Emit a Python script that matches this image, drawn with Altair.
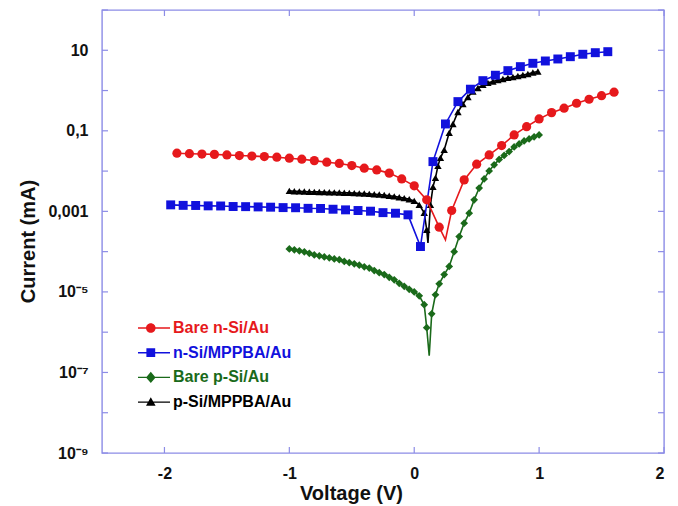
import math
import altair as alt
import pandas as pd

# ---------------- data ----------------
series_names = ["Bare n-Si/Au", "n-Si/MPPBA/Au", "Bare p-Si/Au", "p-Si/MPPBA/Au"]
series_colors = ["#e6191c", "#1111dd", "#1a6a1a", "#000000"]

# Bare n-Si/Au (red circles)
red_v = [-1.9, -1.8, -1.7, -1.6, -1.5, -1.4, -1.3, -1.2, -1.1, -1.0,
         -0.9, -0.8, -0.7, -0.6, -0.5, -0.4, -0.3, -0.2, -0.1, 0.0,
         0.1, 0.2, 0.3, 0.4, 0.5, 0.6, 0.7, 0.8, 0.9, 1.0,
         1.1, 1.2, 1.3, 1.4, 1.5, 1.6]
red_i = [2.78e-2, 2.70e-2, 2.65e-2, 2.60e-2, 2.52e-2, 2.43e-2, 2.36e-2, 2.29e-2, 2.21e-2, 2.09e-2,
         1.97e-2, 1.82e-2, 1.66e-2, 1.55e-2, 1.37e-2, 1.18e-2, 1.07e-2, 8.9e-3, 6.4e-3, 4.3e-3,
         1.93e-3, 4.05e-4, 1.05e-3, 6.05e-3, 1.48e-2, 2.52e-2, 4.3e-2, 7.9e-2, 0.127, 0.197,
         0.283, 0.364, 0.484, 0.608, 0.747, 0.908]
red_dip_v = [0.25]
red_dip_i = [1.96e-4]

# n-Si/MPPBA/Au (blue squares)
blue_v = [-1.95, -1.85, -1.75, -1.65, -1.55, -1.45, -1.35, -1.25, -1.15, -1.05,
          -0.95, -0.85, -0.75, -0.65, -0.55, -0.45, -0.35, -0.25, -0.15, -0.05,
          0.05, 0.15, 0.25, 0.35, 0.45, 0.55, 0.65, 0.75, 0.85, 0.95,
          1.05, 1.15, 1.25, 1.35, 1.45, 1.55]
blue_i = [1.45e-3, 1.41e-3, 1.40e-3, 1.37e-3, 1.36e-3, 1.32e-3, 1.31e-3, 1.29e-3, 1.27e-3, 1.24e-3,
          1.23e-3, 1.19e-3, 1.18e-3, 1.13e-3, 1.09e-3, 1.05e-3, 1.01e-3, 9.3e-4, 9.0e-4, 8.2e-4,
          1.34e-4, 1.72e-2, 0.148, 0.531, 1.08, 1.76, 2.4, 3.12, 3.92, 4.75,
          5.42, 6.08, 6.93, 7.96, 8.71, 9.23]
blue_dip_v = []
blue_dip_i = []

# Bare p-Si/Au (green diamonds)
green_v = [-1.00, -0.96, -0.92, -0.88, -0.84, -0.80, -0.76, -0.72, -0.68, -0.64,
           -0.60, -0.56, -0.52, -0.48, -0.44, -0.40, -0.36, -0.32, -0.28, -0.24,
           -0.20, -0.16, -0.12, -0.08, -0.04, 0.00, 0.04, 0.08, 0.10,
           0.14, 0.17, 0.20, 0.24, 0.28, 0.32, 0.36, 0.40, 0.44, 0.48,
           0.52, 0.56, 0.60, 0.64, 0.68, 0.72, 0.76, 0.80, 0.84, 0.88,
           0.92, 0.96, 1.00]
green_i = [1.17e-4, 1.11e-4, 1.05e-4, 9.9e-5, 9.1e-5, 8.3e-5, 7.9e-5, 7.4e-5, 7.0e-5, 6.6e-5,
           6.3e-5, 5.7e-5, 5.3e-5, 5.0e-5, 4.6e-5, 4.2e-5, 3.9e-5, 3.4e-5, 3.0e-5, 2.7e-5,
           2.3e-5, 2.0e-5, 1.63e-5, 1.38e-5, 1.16e-5, 1.0e-5, 8.0e-6, 4.8e-6, 1.29e-6,
           2.86e-6, 8.5e-6, 1.59e-5, 2.7e-5, 4.3e-5, 1.0e-4, 2.37e-4, 5.1e-4, 9.0e-4, 1.93e-3,
           3.8e-3, 6.4e-3, 1.01e-2, 1.43e-2, 1.95e-2, 2.45e-2, 3.05e-2, 3.98e-2, 4.73e-2, 5.6e-2,
           6.3e-2, 7.1e-2, 7.9e-2]
green_dip_v = [0.12]
green_dip_i = [2.6e-7]

# p-Si/MPPBA/Au (black triangles)
black_v = [-1.00, -0.96, -0.92, -0.88, -0.84, -0.80, -0.76, -0.72, -0.68, -0.64,
           -0.60, -0.56, -0.52, -0.48, -0.44, -0.40, -0.36, -0.32, -0.28, -0.24,
           -0.20, -0.16, -0.12, -0.08, -0.04, 0.00, 0.04, 0.08, 0.10,
           0.13, 0.15, 0.17, 0.19, 0.21, 0.24, 0.28, 0.31, 0.35, 0.39,
           0.43, 0.47, 0.51, 0.55, 0.59, 0.63, 0.67, 0.71, 0.75, 0.79,
           0.83, 0.87, 0.91, 0.95, 0.99]
black_i = [3.23e-3, 3.17e-3, 3.13e-3, 3.10e-3, 3.08e-3, 3.05e-3, 3.04e-3, 3.01e-3, 2.99e-3, 2.96e-3,
           2.94e-3, 2.91e-3, 2.88e-3, 2.84e-3, 2.80e-3, 2.77e-3, 2.72e-3, 2.67e-3, 2.61e-3, 2.54e-3,
           2.45e-3, 2.36e-3, 2.25e-3, 2.13e-3, 1.99e-3, 1.82e-3, 1.45e-3, 9.2e-4, 3.5e-4,
           1.45e-3, 4.05e-3, 6.8e-3, 1.35e-2, 2.13e-2, 3.36e-2, 8.9e-2, 0.148, 0.294, 0.465,
           0.693, 0.95, 1.16, 1.38, 1.55, 1.68, 1.83, 1.94, 2.06, 2.17,
           2.30, 2.44, 2.58, 2.81, 2.98]
black_dip_v = [0.11]
black_dip_i = [1.65e-4]

# axes
x_tick_values = [-2, -1, 0, 1, 2]
x_tick_labels = ["-2", "-1", "0", "1", "2"]
y_label_values = [10, 0.1, 0.001, 1e-5, 1e-7, 1e-9]
y_label_texts = ["10", "0,1", "0,001", "10\u207b\u2075", "10\u207b\u2077", "10\u207b\u2079"]
y_tick_values = [1e2, 1e1, 1e0, 1e-1, 1e-2, 1e-3, 1e-4, 1e-5, 1e-6, 1e-7, 1e-8, 1e-9]

# legend glyphs: a line segment with the series marker (custom symbol paths)
legend_paths = [
    "M-1,-0.09H3V0.09H-1Z M1.2,0A0.6,0.6 0 1,1 0,0A0.6,0.6 0 1,1 1.2,0Z",
    "M-1,-0.09H3V0.09H-1Z M0.05,-0.55H1.15V0.55H0.05Z",
    "M-1,-0.09H3V0.09H-1Z M0.6,-0.7L1.2,0L0.6,0.7L0,0Z",
    "M-1,-0.09H3V0.09H-1Z M0.6,-0.6L1.2,0.45L0,0.45Z",
]

# ---------------- chart ----------------
FONT = "Liberation Sans"
FRAME = "#8c8ce6"
W, H = 562, 443

xs = alt.Scale(domain=[-2.5, 2], nice=False, zero=False)
ys = alt.Scale(type="log", domain=[1e-9, 100], nice=False)

x_label_expr = " : ".join(
    f"datum.value == {v} ? '{t}'" for v, t in zip(x_tick_values, x_tick_labels)) + " : ''"
y_label_expr = " : ".join(
    f"round(log(datum.value)/LN10) == {round(math.log10(v))} ? '{t}'"
    for v, t in zip(y_label_values, y_label_texts)) + " : ''"

x_axis = alt.Axis(values=x_tick_values, labelExpr=x_label_expr, title="Voltage (V)",
                  grid=False, domain=False, ticks=False, labelPadding=12,
                  labelFont=FONT, labelFontSize=16, labelFontWeight="bold", labelColor="#111111",
                  titleFont=FONT, titleFontSize=20, titleFontWeight="bold", titleColor="#111111",
                  titlePadding=2, titleX=249)
y_axis = alt.Axis(values=y_label_values, labelExpr=y_label_expr, title="Current (mA)",
                  grid=False, domain=False, ticks=False, labelPadding=14,
                  labelFont=FONT, labelFontSize=16, labelFontWeight="bold", labelColor="#111111",
                  titleFont=FONT, titleFontSize=20, titleFontWeight="bold", titleColor="#111111",
                  titlePadding=9, titleY=231)

X = alt.X("V:Q", scale=xs, axis=x_axis)
Y = alt.Y("I:Q", scale=ys, axis=y_axis)


def frames(v, i, dv, di):
    pts = pd.DataFrame({"V": v, "I": i})
    line = pd.concat([pts, pd.DataFrame({"V": dv, "I": di})]).sort_values("V").reset_index(drop=True)
    line["k"] = range(len(line))
    return line, pts


def series_layers(v, i, dv, di, color, shape, size):
    line_df, pts_df = frames(v, i, dv, di)
    ln = alt.Chart(line_df).mark_line(color=color, strokeWidth=1.6).encode(
        x=X, y=Y, order="k:Q")
    pt = alt.Chart(pts_df).mark_point(shape=shape, filled=True, color=color, opacity=1,
                                      size=size, strokeWidth=0).encode(x=X, y=Y)
    return [ln, pt]


# inward tick marks on all four sides
ytk = pd.DataFrame({"I": y_tick_values})
xtk = pd.DataFrame({"V": x_tick_values})
tick_layers = [
    alt.Chart(ytk).mark_rule(color=FRAME, strokeWidth=1.2).encode(y=Y, x=alt.value(0), x2=alt.value(6)),
    alt.Chart(ytk).mark_rule(color=FRAME, strokeWidth=1.2).encode(y=Y, x=alt.value(W - 6), x2=alt.value(W)),
    alt.Chart(xtk).mark_rule(color=FRAME, strokeWidth=1.2).encode(x=X, y=alt.value(H - 6), y2=alt.value(H)),
    alt.Chart(xtk).mark_rule(color=FRAME, strokeWidth=1.2).encode(x=X, y=alt.value(0), y2=alt.value(6)),
]

layers = tick_layers
layers += series_layers(black_v, black_i, black_dip_v, black_dip_i, series_colors[3], "triangle-up", 55)
layers += series_layers(green_v, green_i, green_dip_v, green_dip_i, series_colors[2], "diamond", 60)
layers += series_layers(blue_v, blue_i, blue_dip_v, blue_dip_i, series_colors[1], "square", 80)
layers += series_layers(red_v, red_i, red_dip_v, red_dip_i, series_colors[0], "circle", 85)

# legend (built from the series lists; no marks drawn)
label_color_expr = " : ".join(
    f"datum.label == '{n}' ? '{c}'" for n, c in zip(series_names, series_colors)) + " : 'black'"
legend = alt.Legend(title=None, orient="none", legendX=36, legendY=310, padding=0,
                    symbolSize=256, symbolStrokeWidth=0, labelOffset=19, rowPadding=8.7,
                    labelFont=FONT, labelFontSize=16, labelFontWeight="bold",
                    labelColor=alt.ExprRef(label_color_expr))
leg_df = pd.DataFrame({"series": series_names})
legend_layer = alt.Chart(leg_df).mark_point(filled=True, opacity=1).encode(
    color=alt.Color("series:N", scale=alt.Scale(domain=series_names, range=series_colors), legend=legend),
    shape=alt.Shape("series:N", scale=alt.Scale(domain=series_names, range=legend_paths), legend=legend),
).transform_filter("false")
layers.append(legend_layer)

chart = alt.layer(*layers).properties(
    width=W, height=H,
    autosize=alt.AutoSizeParams(type="none"),
    padding={"left": 102, "top": 10, "right": 14, "bottom": 53},
    background="white",
).configure_view(stroke=FRAME, strokeWidth=1.4)

chart.save("out.html", embed_options={"renderer": "svg", "actions": False})
